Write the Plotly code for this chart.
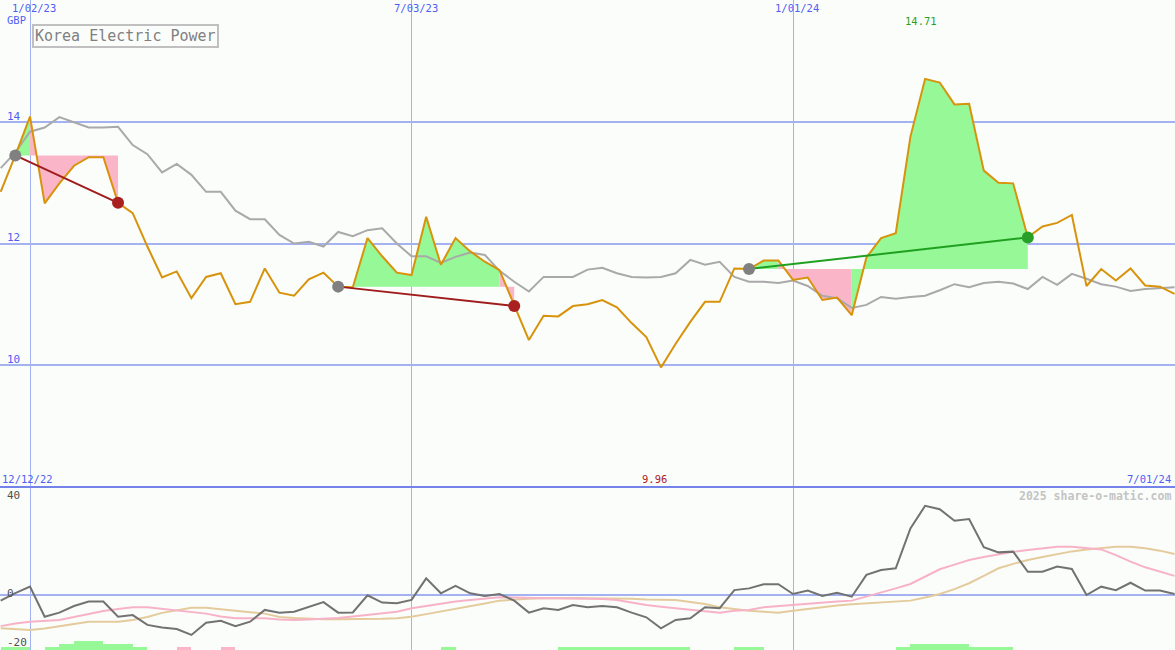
import plotly.graph_objects as go
import pandas as pd

# ---------------- data ----------------
dates = pd.date_range("2022-12-19", periods=81, freq="7D")

price = [12.85, 13.45, 14.09, 12.66, 12.99, 13.28, 13.42, 13.42, 12.67, 12.50,
         11.95, 11.44, 11.54, 11.10, 11.45, 11.51, 11.00, 11.04, 11.59, 11.19,
         11.14, 11.41, 11.52, 11.29, 11.28, 12.09, 11.79, 11.52, 11.48, 12.44,
         11.65, 12.09, 11.87, 11.70, 11.56, 10.97, 10.41, 10.81, 10.80, 10.97,
         11.00, 11.07, 10.95, 10.69, 10.46, 9.96, 10.35, 10.71, 11.04, 11.04,
         11.59, 11.58, 11.72, 11.72, 11.40, 11.44, 11.07, 11.11, 10.82, 11.77,
         12.09, 12.17, 13.76, 14.71, 14.65, 14.29, 14.30, 13.20, 13.00, 12.99,
         12.10, 12.28, 12.34, 12.47, 11.30, 11.58, 11.39, 11.59, 11.31, 11.29,
         11.17]

benchmark = [13.24, 13.50, 13.84, 13.91, 14.08, 13.99, 13.91, 13.91, 13.92, 13.62,
             13.47, 13.17, 13.31, 13.13, 12.85, 12.85, 12.54, 12.40, 12.40, 12.14,
             12.00, 12.03, 11.95, 12.19, 12.12, 12.22, 12.25, 12.00, 11.79, 11.79,
             11.68, 11.78, 11.85, 11.81, 11.55, 11.37, 11.21, 11.45, 11.45, 11.45,
             11.57, 11.60, 11.51, 11.45, 11.44, 11.45, 11.51, 11.73, 11.65, 11.70,
             11.45, 11.37, 11.37, 11.35, 11.39, 11.30, 11.14, 11.10, 10.94, 10.99,
             11.12, 11.09, 11.12, 11.14, 11.23, 11.33, 11.28, 11.35, 11.37, 11.34,
             11.25, 11.45, 11.32, 11.50, 11.42, 11.33, 11.29, 11.22, 11.25, 11.26,
             11.28]

momentum = [-2.3, 0.8, 3.4, -8.9, -7.2, -4.5, -2.7, -2.7, -8.9, -8.2,
            -12.2, -13.3, -13.9, -16.3, -11.3, -10.5, -12.7, -10.9, -6.1, -7.2,
            -6.8, -4.8, -2.9, -7.2, -7.1, -0.1, -3.1, -3.4, -2.0, 6.8,
            0.7, 3.7, 0.7, -0.4, 0.4, -2.3, -7.2, -5.4, -6.1, -4.1,
            -5.0, -4.5, -5.0, -7.2, -9.1, -13.6, -10.2, -9.5, -5.0, -5.4,
            2.0, 2.7, 4.4, 4.4, 0.4, 1.8, -0.4, 0.9, -0.7, 8.2,
            10.2, 10.9, 27.2, 36.4, 35.0, 30.3, 31.0, 19.5, 17.4, 17.7,
            9.5, 9.5, 11.6, 10.6, 0.0, 3.4, 2.0, 5.0, 1.8, 1.8,
            0.4]

momentum_fast = [-12.7, -11.6, -10.9, -10.6, -10.2, -9.0, -7.6, -6.5, -5.7, -5.0,
                 -5.0, -5.6, -6.2, -6.7, -7.6, -8.8, -9.5, -9.5, -9.5, -10.0,
                 -10.2, -10.0, -9.8, -9.4, -8.8, -8.2, -7.6, -6.8, -5.4, -4.4,
                 -3.4, -2.7, -2.0, -1.5, -0.9, -1.0, -1.3, -1.3, -1.3, -1.3,
                 -1.3, -1.6, -2.0, -3.1, -4.1, -4.8, -5.4, -6.1, -6.8, -7.2,
                 -6.4, -6.1, -5.0, -4.5, -4.1, -3.6, -3.1, -2.7, -2.3, -0.7,
                 0.9, 2.7, 4.5, 7.5, 10.5, 12.4, 14.3, 15.5, 16.7, 17.6,
                 18.4, 19.1, 19.7, 19.7, 19.1, 18.6, 16.3, 13.6, 11.3, 9.5,
                 7.8]

momentum_slow = [-13.6, -14.1, -14.3, -13.7, -12.9, -11.8, -10.9, -10.9, -10.9, -10.2,
                 -9.0, -7.3, -6.1, -5.2, -5.2, -5.7, -6.5, -7.0, -7.6, -9.0,
                 -9.4, -9.8, -9.9, -9.9, -9.9, -9.8, -9.7, -9.5, -8.9, -7.8,
                 -6.8, -5.7, -4.8, -3.5, -2.3, -1.8, -1.5, -1.3, -1.1, -1.2,
                 -1.3, -1.3, -1.3, -1.5, -1.8, -1.9, -2.0, -2.9, -3.7, -5.0,
                 -5.8, -6.4, -6.8, -7.2, -6.4, -5.6, -4.8, -4.3, -3.8, -3.5,
                 -3.1, -2.7, -2.3, -1.0, 0.4, 2.4, 4.8, 7.8, 10.9, 12.7,
                 14.3, 15.5, 16.7, 17.8, 18.6, 19.2, 19.7, 19.7, 19.1, 18.1,
                 16.7]

signal = [1, 1, 0, 1, 2, 3, 3, 2, 2, 1,
          0, 0, -1, 0, 0, -1, 0, 0, 0, 0,
          0, 0, 0, 0, 0, 0, 0, 0, 0, 0,
          1, 0, 0, 0, 0, 0, 0, 0, 1, 1,
          1, 1, 1, 1, 1, 1, 1, 0, 0, 0,
          1, 1, 0, 0, 0, 0, 0, 0, 0, 0,
          0, 1, 2, 2, 2, 2, 1, 1, 1, 0,
          0, 0, 0, 0, 0, 0, 0, 0, 0, 0,
          0]

# trades: (buy index, sell index)
trades = [(1, 8), (23, 35), (51, 70)]

grid_dates = ["2023-01-02", "2023-07-03", "2024-01-01"]
grid_labels = ["1/02/23", "7/03/23", "1/01/24"]
price_ticks = [10, 12, 14]
osc_ticks = [-20, 0, 40]
osc_tick_text = ["-20", "0", "40"]
title = "Korea Electric Power"
currency = "GBP"
range_labels = ["12/12/22", "7/01/24"]
credit = "2025 share-o-matic.com"

# ---------------- styles ----------------
W, H = 1175, 650
SPLIT = 487
BG = "#fbfdfb"
BLUE_TXT = "#4f60f2"
GRID = "#a4b2f2"
SEP = "#7483ea"
GREEN_FILL = "#96f896"
PINK_FILL = "#fab6c8"
ORANGE = "#d8930c"
GRAYL = "#a9a9a9"
MONO = "DejaVu Sans Mono"

def py(p):  # pixel-from-top to paper y
    return 1 - p / H

fig = go.Figure()

# trade fills (per segment, coloured by the segment end vs buy price)
gx, gy, rx, ry = [], [], [], []
for b, s in trades:
    base = price[b]
    for i in range(b, s):
        xs = [dates[i], dates[i], dates[i + 1], dates[i + 1], dates[i], None]
        ys = [base, price[i], price[i + 1], base, base, None]
        if price[i + 1] >= base:
            gx += xs; gy += ys
        else:
            rx += xs; ry += ys
fig.add_trace(go.Scatter(x=gx, y=gy, mode="lines", fill="toself", fillcolor=GREEN_FILL,
                         line=dict(width=0, color=GREEN_FILL), hoverinfo="skip", showlegend=False))
fig.add_trace(go.Scatter(x=rx, y=ry, mode="lines", fill="toself", fillcolor=PINK_FILL,
                         line=dict(width=0, color=PINK_FILL), hoverinfo="skip", showlegend=False))

# benchmark and price
fig.add_trace(go.Scatter(x=dates, y=benchmark, mode="lines",
                         line=dict(color=GRAYL, width=2), showlegend=False))
fig.add_trace(go.Scatter(x=dates, y=price, mode="lines",
                         line=dict(color=ORANGE, width=2), showlegend=False))

# trade lines and markers
for b, s in trades:
    win = price[s] >= price[b]
    lc = "#20a020" if win else "#a01c1c"
    fig.add_trace(go.Scatter(x=[dates[b], dates[s]], y=[price[b], price[s]], mode="lines",
                             line=dict(color=lc, width=2), showlegend=False))
    fig.add_trace(go.Scatter(x=[dates[b]], y=[price[b]], mode="markers",
                             marker=dict(color="#808080", size=12), showlegend=False))
    fig.add_trace(go.Scatter(x=[dates[s]], y=[price[s]], mode="markers",
                             marker=dict(color="#28a028" if win else "#a82020", size=12),
                             showlegend=False))

# lower panel
fig.add_trace(go.Bar(x=dates, y=[abs(v) for v in signal], xaxis="x2", yaxis="y3",
                     marker=dict(color=[GREEN_FILL if v > 0 else PINK_FILL for v in signal],
                                 line=dict(width=0)),
                     width=7 * 24 * 3600 * 1000, offset=0, showlegend=False))
fig.add_trace(go.Scatter(x=dates, y=momentum_slow, xaxis="x2", yaxis="y2", mode="lines",
                         line=dict(color="#e4cb9c", width=2), showlegend=False))
fig.add_trace(go.Scatter(x=dates, y=momentum_fast, xaxis="x2", yaxis="y2", mode="lines",
                         line=dict(color="#f8b2c8", width=2), showlegend=False))
fig.add_trace(go.Scatter(x=dates, y=momentum, xaxis="x2", yaxis="y2", mode="lines",
                         line=dict(color="#727272", width=2), showlegend=False))

xrange = ["2022-12-18 16:33", "2024-07-01 05:00"]
split_paper = 1 - SPLIT / H
s_osc = 2.45  # px per unit in lower panel
osc_range = [-(H - 595) / s_osc, (595 - SPLIT) / s_osc]

fig.update_layout(
    width=W, height=H, margin=dict(l=0, r=0, t=0, b=0),
    paper_bgcolor=BG, plot_bgcolor=BG, bargap=0,
    xaxis=dict(type="date", range=xrange, tickvals=grid_dates, showticklabels=False,
               showgrid=True, gridcolor=GRID, gridwidth=1, zeroline=False, anchor="y",
               fixedrange=True),
    xaxis2=dict(type="date", range=xrange, tickvals=grid_dates, showticklabels=False,
                showgrid=True, gridcolor=GRID, gridwidth=1, zeroline=False, anchor="y2",
                matches="x"),
    yaxis=dict(domain=[split_paper, 1], range=[12 - (SPLIT - 243.5) / 60.75, 12 + 243.5 / 60.75],
               tickvals=price_ticks, showgrid=True, gridcolor=GRID, gridwidth=2,
               zeroline=False, ticklabelposition="inside", ticklabelshift=-6,
               ticklabelstandoff=4,
               tickfont=dict(family=MONO, size=11, color=BLUE_TXT)),
    yaxis2=dict(domain=[0, split_paper], range=osc_range, tickvals=osc_ticks,
                ticktext=osc_tick_text,
                showgrid=False, zeroline=True, zerolinecolor=GRID, zerolinewidth=2,
                ticklabelposition="inside", ticklabelshift=-2, ticklabelstandoff=4,
                tickfont=dict(family=MONO, size=11, color="#505050")),
    yaxis3=dict(domain=[0, split_paper], range=[0, (H - SPLIT) / 3.0], overlaying="y2",
                visible=False),
    shapes=[dict(type="line", xref="paper", yref="paper", x0=0, x1=1,
                 y0=split_paper, y1=split_paper, line=dict(color=SEP, width=2))],
)

ann = []
for d, lab in zip(grid_dates, grid_labels):
    ann.append(dict(x=d, xref="x", y=py(8), yref="paper", text=lab, showarrow=False,
                    xanchor="center", yanchor="middle", xshift=4,
                    font=dict(family=MONO, size=10.5, color=BLUE_TXT)))
ann.append(dict(x=5 / W, xref="paper", y=py(20), yref="paper", text=currency, showarrow=False,
                xanchor="left", yanchor="middle", font=dict(family=MONO, size=10.5, color=BLUE_TXT)))
ann.append(dict(x=32 / W, xref="paper", y=py(24), yref="paper", text=title, showarrow=False,
                xanchor="left", yanchor="top", bordercolor="#c0c0c0", borderwidth=2, borderpad=1,
                bgcolor=BG, font=dict(family=MONO, size=15, color="#808080")))
imax = price.index(max(price))
imin = price.index(min(price))
ann.append(dict(x=dates[imax], xref="x", y=py(21), yref="paper", text=f"{max(price):.2f}",
                showarrow=False, xanchor="center", yanchor="middle", xshift=-4,
                font=dict(family=MONO, size=10.5, color="#28a028")))
ann.append(dict(x=dates[imin], xref="x", y=py(479), yref="paper", text=f"{min(price):.2f}",
                showarrow=False, xanchor="center", yanchor="middle", xshift=-6,
                font=dict(family=MONO, size=10.5, color="#b02020")))
ann.append(dict(x=0, xref="paper", y=py(479), yref="paper", text=range_labels[0], showarrow=False,
                xanchor="left", yanchor="middle", font=dict(family=MONO, size=10.5, color=BLUE_TXT)))
ann.append(dict(x=1173 / W, xref="paper", y=py(479), yref="paper", text=range_labels[1],
                showarrow=False, xanchor="right", yanchor="middle",
                font=dict(family=MONO, size=10.5, color=BLUE_TXT)))
ann.append(dict(x=1173 / W, xref="paper", y=py(496), yref="paper", text=f"<b>{credit}</b>",
                showarrow=False, xanchor="right", yanchor="middle",
                font=dict(family=MONO, size=11.5, color="#c4c4c4")))
fig.update_layout(annotations=ann)

fig.write_html("out.html", config={"displayModeBar": False},
               post_script="document.body.style.margin='0';"
               "document.body.style.overflow='hidden';")
